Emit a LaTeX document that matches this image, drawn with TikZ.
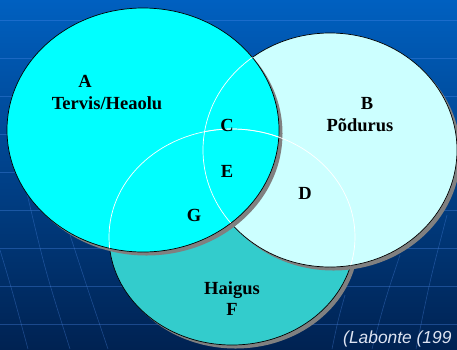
\documentclass[tikz,border=0pt]{standalone}
\usepackage{fontspec}
\setmainfont{Liberation Serif}
\newfontfamily\citefont{Liberation Sans}
\definecolor{bgtop}{RGB}{0,96,192}
\definecolor{bgbot}{RGB}{0,34,82}
\definecolor{gridblue}{RGB}{80,140,235}
\definecolor{setA}{RGB}{0,255,255}
\definecolor{setB}{RGB}{204,255,255}
\definecolor{setF}{RGB}{51,204,204}
\definecolor{shadowgray}{RGB}{128,128,128}
\definecolor{citegray}{RGB}{222,228,242}
\begin{document}
\begin{tikzpicture}[x=1pt,y=-1pt,
  lab/.style={font=\fontsize{18.5}{22}\selectfont\bfseries, text=black, inner sep=0pt, anchor=base},
  rim/.style={draw=black, line width=0.7pt},
  hid/.style={draw=white, line width=0.7pt},
  shd/.style={fill=shadowgray},
  gridline/.style={draw=gridblue, line width=0.6pt, opacity=0.35},
  citestyle/.style={font=\citefont\itshape\fontsize{17.4}{19}\selectfont, text=citegray, inner sep=0pt, anchor=base west},
  ellA/.style={x radius=136pt, y radius=122pt},
  ellB/.style={x radius=127pt, y radius=117pt},
  ellF/.style={x radius=123pt, y radius=108pt}
]
\useasboundingbox (0,0) rectangle (457,349);
\shade[top color=bgtop, bottom color=bgbot] (0,0) rectangle (457,349);
% background grid
\foreach \yy in {20,58,...,330} \draw[gridline] (0,\yy) -- (457,\yy);
\draw[gridline] (0,250) .. controls (12,290) .. (28,349);
\draw[gridline] (25,185) .. controls (45,270) .. (70,349);
\draw[gridline] (70,235) .. controls (88,290) .. (108,349);
\draw[gridline] (447,215) .. controls (430,280) .. (416,349);
\draw[gridline] (400,255) .. controls (385,300) .. (372,349);
\draw[gridline] (345,295) .. controls (338,320) .. (332,349);
% centres
\coordinate (cA) at (143,130);
\coordinate (cB) at (330,150);
\coordinate (cF) at (232,237);
% F
\fill[shd] ([shift={(3.5,3.5)}]cF) ellipse [ellF];
\filldraw[fill=setF, rim] (cF) ellipse [ellF];
% B
\fill[shd] ([shift={(3.5,3.5)}]cB) ellipse [ellB];
\filldraw[fill=setB, rim] (cB) ellipse [ellB];
% A
\fill[shd] ([shift={(3.5,3.5)}]cA) ellipse [ellA];
\filldraw[fill=setA, rim] (cA) ellipse [ellA];
% hidden outlines in white
\begin{scope}
  \clip (cA) ellipse [ellA];
  \draw[hid] (cF) ellipse [ellF];
  \draw[hid] (cB) ellipse [ellB];
\end{scope}
\begin{scope}
  \clip (cB) ellipse [ellB];
  \draw[hid] (cF) ellipse [ellF];
\end{scope}
% labels
\node[lab] (lA) at (85,87) {A};
\node[lab] (lAname) at (107,109) {Tervis/Heaolu};
\node[lab] (lB) at (367,109) {B};
\node[lab] (lBname) at (360,131) {Põdurus};
\node[lab] (lC) at (227,131) {C};
\node[lab] (lE) at (227,177) {E};
\node[lab] (lD) at (305,199) {D};
\node[lab] (lG) at (194,221) {G};
\node[lab] (lFname) at (232,294) {Haigus};
\node[lab] (lF) at (232,315) {F};
\node[citestyle] (cite) at (343,343) {(Labonte (199};
\end{tikzpicture}
\end{document}
